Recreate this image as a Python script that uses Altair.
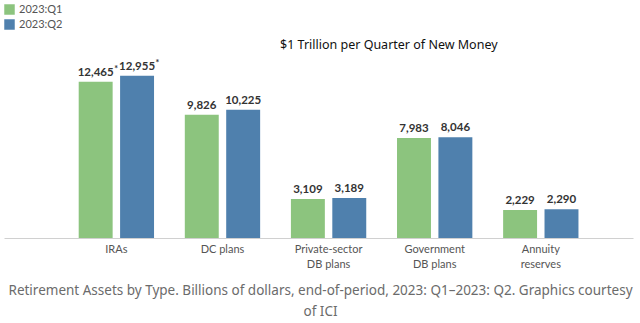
import altair as alt
import pandas as pd

categories = ["IRAs", "DC plans", "Private-sector|DB plans", "Government|DB plans", "Annuity|reserves"]
series = ["2023:Q1", "2023:Q2"]
q1_values = [12465, 9826, 3109, 7983, 2229]
q2_values = [12955, 10225, 3189, 8046, 2290]
q1_labels = ["12,465", "9,826", "3,109", "7,983", "2,229"]
q2_labels = ["12,955", "10,225", "3,189", "8,046", "2,290"]
q1_marks = ["*", "", "", "", ""]
q2_marks = ["*", "", "", "", ""]
colors = ["#8cc47e", "#4f80ad"]

rows = []
for i, c in enumerate(categories):
    rows.append({"cat": c, "series": series[0], "value": q1_values[i], "label": q1_labels[i], "mark": q1_marks[i]})
    rows.append({"cat": c, "series": series[1], "value": q2_values[i], "label": q2_labels[i], "mark": q2_marks[i]})
df = pd.DataFrame(rows)

x = alt.X("cat:N", sort=categories, title=None,
          scale=alt.Scale(paddingInner=0.29, paddingOuter=0.609, align=0.578),
          axis=alt.Axis(labelExpr="split(datum.label, '|')", labelAngle=0,
                        labelFont="Lato", labelFontSize=11, labelColor="#555555",
                        labelPadding=5, ticks=False, domainColor="#d0d0d0",
                        domainWidth=1, labelLineHeight=15))
xo = alt.XOffset("series:N", sort=series, scale=alt.Scale(paddingInner=0.18, paddingOuter=0))
y = alt.Y("value:Q", scale=alt.Scale(domain=[0, 15800], nice=False), axis=None)

base = alt.Chart(df).encode(x=x, xOffset=xo, y=y)

bars = base.mark_bar().encode(
    color=alt.Color("series:N", sort=series,
                    scale=alt.Scale(domain=series, range=colors),
                    legend=alt.Legend(title=None, orient="none", legendX=0, legendY=-36,
                                      symbolType="square", symbolSize=110,
                                      symbolStrokeWidth=0, labelFont="Lato",
                                      labelFontSize=11, labelColor="#555555",
                                      rowPadding=3, labelOffset=4))
)

text = base.mark_text(baseline="bottom", dy=-4, font="Lato", fontWeight="bold",
                      fontSize=11.5, color="#333333").encode(text="label:N")

stars = base.mark_text(baseline="bottom", align="left", dx=18.5, dy=-8, font="Lato",
                       fontWeight="bold", fontSize=9, color="#333333").encode(text="mark:N")

headline = alt.Chart(pd.DataFrame({"t": ["$1 Trillion per Quarter of New Money"]})).mark_text(
    align="left", baseline="middle", font="Noto Sans", fontSize=12.5, color="#111111"
).encode(x=alt.value(276), y=alt.value(5), text="t:N")

chart = alt.layer(bars, text, stars, headline).properties(
    width=629, height=198,
    autosize=alt.AutoSizeParams(type="none"),
    padding={"left": 4, "top": 40, "right": 7, "bottom": 85},
    title=alt.TitleParams(
        text=["Retirement Assets by Type. Billions of dollars, end-of-period, 2023: Q1\u20132023: Q2. Graphics courtesy", "of ICI"],
        orient="bottom", anchor="middle", frame="group", dx=2, offset=15,
        font="Noto Sans", fontSize=13.5, fontWeight="normal", color="#6b6b6b", lineHeight=21
    )
).configure_view(stroke=None)

chart.save("out.html", embed_options={"renderer": "svg", "actions": False})
